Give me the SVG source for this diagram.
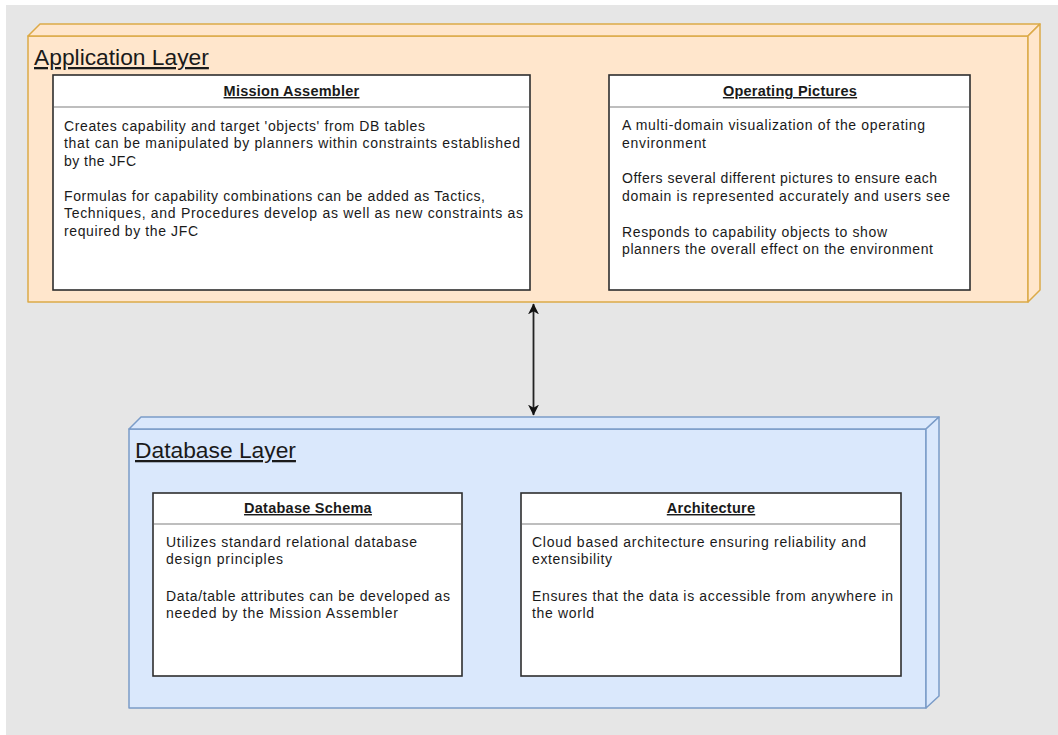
<svg xmlns="http://www.w3.org/2000/svg" width="1058" height="735" viewBox="0 0 1058 735">
  <style>
    .layer-title { font-family: "Liberation Sans", Arial, sans-serif; font-size: 22.8px; fill: #1a1a1a; text-decoration: underline; }
    .card { fill: #ffffff; stroke: #2e2e2e; stroke-width: 1.6; }
    .card-sep { stroke: #a8a8a8; stroke-width: 1.5; }
    .card-title { font-family: "Liberation Sans", Arial, sans-serif; font-size: 14.5px; font-weight: bold; fill: #1a1a1a; text-anchor: middle; text-decoration: underline; letter-spacing: 0.25px; }
    .body { font-family: "Liberation Sans", Arial, sans-serif; font-size: 14px; fill: #1a1a1a; }
    .app-face { fill: #ffe6cc; stroke: #dcaa48; stroke-width: 1.5; stroke-linejoin: round; }
    .db-face { fill: #dae8fc; stroke: #7b9cc8; stroke-width: 1.5; stroke-linejoin: round; }
    .link { stroke: #222222; stroke-width: 1.8; fill: none; }
  </style>
  <defs>
    <marker id="arrow" viewBox="0 0 10 10" refX="9.5" refY="5" markerWidth="11" markerHeight="11" orient="auto-start-reverse" markerUnits="userSpaceOnUse">
      <path d="M0,0 L10,5 L0,10 L3,5 z" fill="#111111"/>
    </marker>
  </defs>

  <!-- canvas -->
  <rect x="0" y="0" width="1058" height="735" fill="#ffffff"/>
  <rect x="6" y="5" width="1052" height="730" fill="#e6e6e6"/>

  <!-- Application layer (3D box) -->
  <g id="application-layer">
    <rect class="app-face" x="28" y="36" width="1000" height="266"/>
    <polygon class="app-face" points="28,36 40,24 1040,24 1028,36"/>
    <polygon class="app-face" points="1028,36 1040,24 1040,290 1028,302"/>
    <text class="layer-title" x="34" y="65">Application Layer</text>
  </g>

  <g id="mission-assembler">
    <rect class="card" x="53" y="75" width="477" height="215"/>
    <line class="card-sep" x1="54" y1="107" x2="529" y2="107"/>
    <text class="card-title" x="291.5" y="96">Mission Assembler</text>
    <text class="body">
      <tspan x="64" y="131" textLength="361" lengthAdjust="spacing">Creates capability and target 'objects' from DB tables</tspan>
      <tspan x="64" y="148" textLength="456" lengthAdjust="spacing">that can be manipulated by planners within constraints established</tspan>
      <tspan x="64" y="166" textLength="72" lengthAdjust="spacing">by the JFC</tspan>
      <tspan x="64" y="201" textLength="421" lengthAdjust="spacing">Formulas for capability combinations can be added as Tactics,</tspan>
      <tspan x="64" y="218" textLength="459" lengthAdjust="spacing">Techniques, and Procedures develop as well as new constraints as</tspan>
      <tspan x="64" y="236" textLength="134" lengthAdjust="spacing">required by the JFC</tspan>
    </text>
  </g>

  <g id="operating-pictures">
    <rect class="card" x="609" y="75" width="361" height="215"/>
    <line class="card-sep" x1="610" y1="107" x2="969" y2="107"/>
    <text class="card-title" x="790" y="96">Operating Pictures</text>
    <text class="body">
      <tspan x="622" y="130" textLength="303" lengthAdjust="spacing">A multi-domain visualization of the operating</tspan>
      <tspan x="622" y="148" textLength="84" lengthAdjust="spacing">environment</tspan>
      <tspan x="622" y="183" textLength="315" lengthAdjust="spacing">Offers several different pictures to ensure each</tspan>
      <tspan x="622" y="201" textLength="328" lengthAdjust="spacing">domain is represented accurately and users see</tspan>
      <tspan x="622" y="237" textLength="265" lengthAdjust="spacing">Responds to capability objects to show</tspan>
      <tspan x="622" y="254" textLength="311" lengthAdjust="spacing">planners the overall effect on the environment</tspan>
    </text>
  </g>

  <!-- Database layer (3D box) -->
  <g id="database-layer">
    <rect class="db-face" x="129" y="429" width="797" height="279"/>
    <polygon class="db-face" points="129,429 141,417 939,417 926,429"/>
    <polygon class="db-face" points="926,429 939,417 939,696 926,708"/>
    <text class="layer-title" x="135" y="458">Database Layer</text>
  </g>

  <g id="database-schema">
    <rect class="card" x="153" y="493" width="309" height="183"/>
    <line class="card-sep" x1="154" y1="524" x2="461" y2="524"/>
    <text class="card-title" x="308" y="513">Database Schema</text>
    <text class="body">
      <tspan x="166" y="547" textLength="251" lengthAdjust="spacing">Utilizes standard relational database</tspan>
      <tspan x="166" y="564" textLength="117" lengthAdjust="spacing">design principles</tspan>
      <tspan x="166" y="601" textLength="284" lengthAdjust="spacing">Data/table attributes can be developed as</tspan>
      <tspan x="166" y="618" textLength="232" lengthAdjust="spacing">needed by the Mission Assembler</tspan>
    </text>
  </g>

  <g id="architecture">
    <rect class="card" x="521" y="493" width="380" height="183"/>
    <line class="card-sep" x1="522" y1="524" x2="900" y2="524"/>
    <text class="card-title" x="711" y="513">Architecture</text>
    <text class="body">
      <tspan x="532" y="547" textLength="334" lengthAdjust="spacing">Cloud based architecture ensuring reliability and</tspan>
      <tspan x="532" y="564" textLength="80" lengthAdjust="spacing">extensibility</tspan>
      <tspan x="532" y="601" textLength="361" lengthAdjust="spacing">Ensures that the data is accessible from anywhere in</tspan>
      <tspan x="532" y="618" textLength="62" lengthAdjust="spacing">the world</tspan>
    </text>
  </g>

  <!-- connectors -->
  <g id="connectors">
    <line class="link" x1="533.5" y1="304" x2="533.5" y2="415" marker-start="url(#arrow)" marker-end="url(#arrow)"/>
  </g>
</svg>
